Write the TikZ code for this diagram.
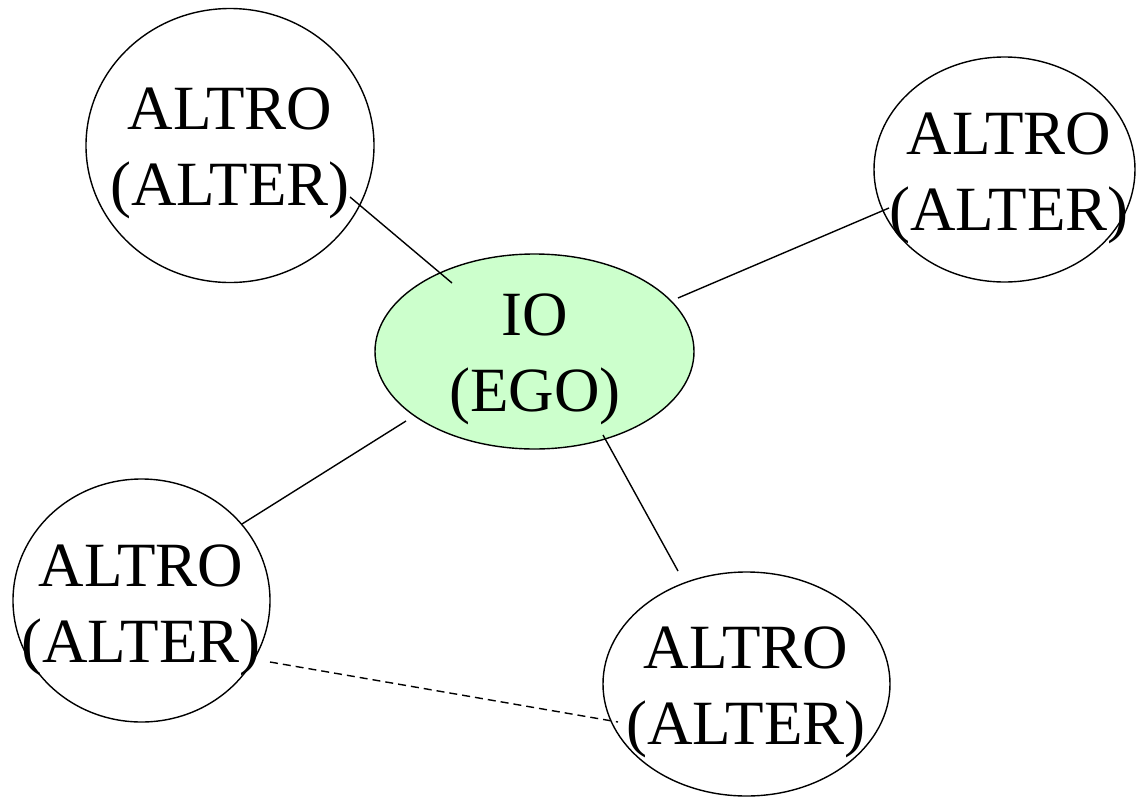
\documentclass[tikz,border=0pt]{standalone}
\usepackage{fontspec}
\setmainfont{Liberation Serif}
\usetikzlibrary{shapes.geometric}
\definecolor{egogreen}{HTML}{CCFFCC}
\tikzset{
  bubble/.style={ellipse, draw=black, line width=1.4pt, inner sep=0pt},
  label text/.style={align=center, inner sep=0pt, font=\fontsize{63}{76}\selectfont},
  tie/.style={draw=black, line width=1.4pt},
  weak tie/.style={draw=black, line width=1.4pt, dash pattern=on 8pt off 5pt}
}
\begin{document}
\begin{tikzpicture}[x=1pt,y=-1pt]
\useasboundingbox (0,0) rectangle (1136,796);
% ellipses
\node[bubble, minimum width=288pt, minimum height=274pt] (altA) at (230,145.5) {};
\node[bubble, minimum width=261pt, minimum height=225pt] (altB) at (1004.5,169.5) {};
\node[bubble, fill=egogreen, minimum width=319pt, minimum height=195pt] (ego) at (534.5,351.5) {};
\node[bubble, minimum width=257pt, minimum height=243pt] (altC) at (141.5,600.5) {};
\node[bubble, minimum width=287pt, minimum height=224pt] (altD) at (746.5,684) {};
% texts
\node[label text] (altAtext) at (230,153.5) {ALTRO\\(ALTER)};
\node[label text] (altBtext) at (1009,178) {ALTRO\\(ALTER)};
\node[label text] (egotext) at (535,359.5) {IO\\(EGO)};
\node[label text] (altCtext) at (141,610) {ALTRO\\(ALTER)};
\node[label text] (altDtext) at (746,692) {ALTRO\\(ALTER)};
% connector end points
\coordinate (altA-end) at (350,197);
\coordinate (ego-a) at (452,283);
\coordinate (ego-b) at (678,298);
\coordinate (altB-end) at (889,208);
\coordinate (ego-c) at (406,421);
\coordinate (altC-end) at (242,524);
\coordinate (ego-d) at (603,435);
\coordinate (altD-end) at (678,571);
\coordinate (altC-dash) at (270,662);
\coordinate (altD-dash) at (618,722);
% connectors
\draw[tie] (altA-end) -- (ego-a);
\draw[tie] (ego-b) -- (altB-end);
\draw[tie] (ego-c) -- (altC-end);
\draw[tie] (ego-d) -- (altD-end);
\draw[weak tie] (altC-dash) -- (altD-dash);
\end{tikzpicture}
\end{document}
